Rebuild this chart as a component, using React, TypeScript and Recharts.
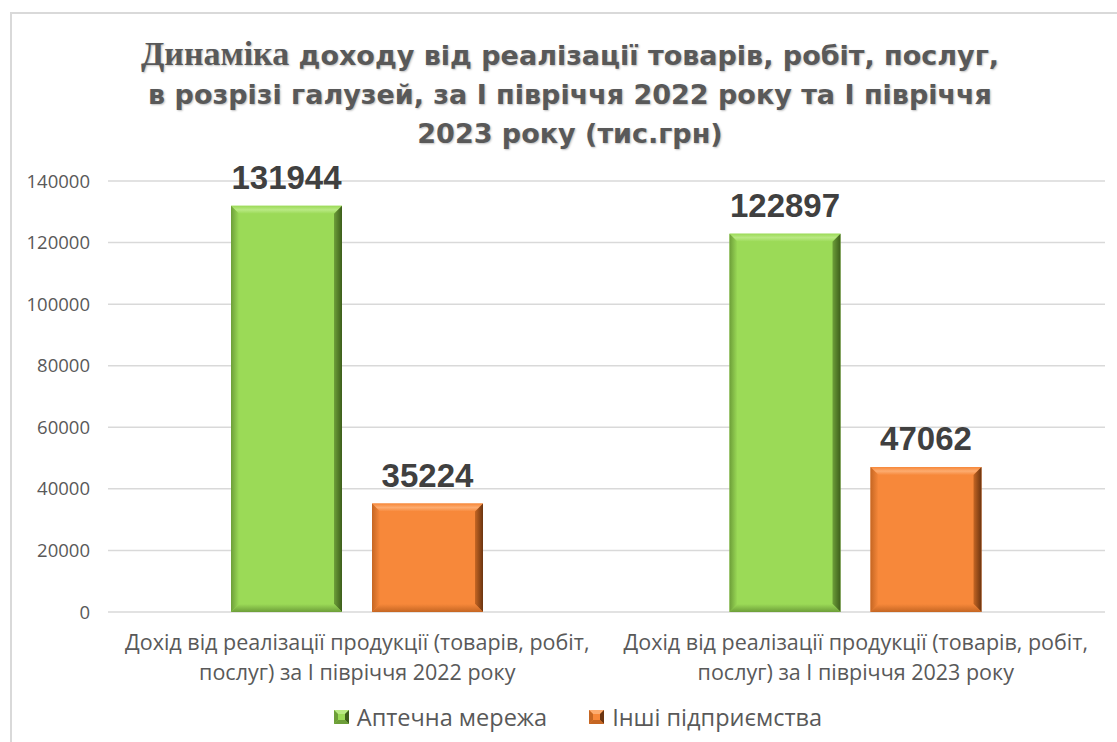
import React from 'react'
import { Bar, BarChart, CartesianGrid, LabelList, XAxis, YAxis } from 'recharts'

const categories = [
  'Дохід від реалізації продукції (товарів, робіт, послуг) за І півріччя 2022 року',
  'Дохід від реалізації продукції (товарів, робіт, послуг) за І півріччя 2023 року',
]
const pharmacy = [131944, 122897]
const others = [35224, 47062]
const yTicks = [0, 20000, 40000, 60000, 80000, 100000, 120000, 140000]
const seriesNames = ['Аптечна мережа', 'Інші підприємства']

const data = categories.map((name, i) => ({ name, pharmacy: pharmacy[i], others: others[i] }))

const GREEN = { fill: '#9bda57', light: '#b9e983', edge: '#6d9e39', dark: '#3d5e1b', id: 'g' }
const ORANGE = { fill: '#f7883a', light: '#fdac70', edge: '#c56623', dark: '#6b3410', id: 'o' }

// bevelled bar, roughly like the office "angle" bevel
function BevelBar(props: any) {
  const { x, y, width: w, height: h, tone } = props
  if (x == null || y == null || !w || !h) return null
  const b = Math.min(8, h / 2)
  return (
    <g>
      <rect x={x} y={y} width={w} height={h} fill={tone.fill} />
      <polygon points={`${x},${y} ${x + w},${y} ${x + w - b},${y + b} ${x + b},${y + b}`} fill={`url(#${tone.id}Top)`} />
      <polygon points={`${x},${y} ${x + b},${y + b} ${x + b},${y + h - b} ${x},${y + h}`} fill={`url(#${tone.id}Left)`} />
      <polygon
        points={`${x + w},${y} ${x + w},${y + h} ${x + w - b},${y + h - b} ${x + w - b},${y + b}`}
        fill={`url(#${tone.id}Right)`}
      />
      <polygon
        points={`${x},${y + h} ${x + b},${y + h - b} ${x + w - b},${y + h - b} ${x + w},${y + h}`}
        fill={`url(#${tone.id}Bottom)`}
      />
    </g>
  )
}

function toneDefs(tone: typeof GREEN) {
  return (
    <>
      <linearGradient id={`${tone.id}Top`} x1="0" y1="0" x2="0" y2="1">
        <stop offset="0%" stopColor={tone.fill} />
        <stop offset="50%" stopColor={tone.light} />
        <stop offset="100%" stopColor={tone.fill} />
      </linearGradient>
      <linearGradient id={`${tone.id}Left`} x1="0" y1="0" x2="1" y2="0">
        <stop offset="0%" stopColor={tone.edge} />
        <stop offset="100%" stopColor={tone.fill} />
      </linearGradient>
      <linearGradient id={`${tone.id}Right`} x1="0" y1="0" x2="1" y2="0">
        <stop offset="0%" stopColor={tone.edge} />
        <stop offset="100%" stopColor={tone.dark} />
      </linearGradient>
      <linearGradient id={`${tone.id}Bottom`} x1="0" y1="0" x2="0" y2="1">
        <stop offset="0%" stopColor={tone.fill} />
        <stop offset="100%" stopColor={tone.edge} />
      </linearGradient>
    </>
  )
}

function CategoryTick(props: any) {
  const { x, y, payload } = props
  const [first, second] = String(payload.value).split(/(?<=робіт,) /)
  return (
    <g>
      <text x={x} y={y + 38} textAnchor="middle" fontSize={21.5} fill="#595959" fontFamily="Open Sans">
        {first}
      </text>
      <text x={x} y={y + 68} textAnchor="middle" fontSize={21.5} fill="#595959" fontFamily="Open Sans">
        {second}
      </text>
    </g>
  )
}

function LegendMark({ tone }: { tone: typeof GREEN }) {
  return (
    <svg width={15} height={14} style={{ marginRight: 8 }}>
      <rect x={0} y={0} width={15} height={14} fill={tone.fill} />
      <polygon points="0,0 15,0 11,4 4,4" fill={tone.light} />
      <polygon points="0,0 4,4 4,10 0,14" fill={tone.edge} />
      <polygon points="15,0 15,14 11,10 11,4" fill={tone.dark} />
      <polygon points="0,14 4,10 11,10 15,14" fill={tone.edge} />
    </svg>
  )
}

export default function App() {
  return (
    <div style={{ position: 'absolute', left: 0, top: 0, width: 1117, height: 742, overflow: 'hidden', background: '#fff' }}>
      <div style={{ position: 'absolute', left: 10, top: 12, width: 1130, height: 760, border: '2px solid #d9d9d9' }} />
      <div
        style={{
          position: 'absolute',
          left: 0,
          top: 34,
          width: 1140,
          textAlign: 'center',
          fontFamily: 'DejaVu Sans',
          fontWeight: 700,
          fontSize: 27,
          lineHeight: '39px',
          color: '#595959',
          textShadow: '1px 1px 2px rgba(0,0,0,0.25)',
        }}
      >
        <span style={{ fontFamily: 'Liberation Serif', fontSize: 34 }}>Динаміка</span> доходу від реалізації товарів, робіт,
        послуг,
        <br />в розрізі галузей, за І півріччя 2022 року та І півріччя
        <br />2023 року (тис.грн)
      </div>
      <div style={{ position: 'absolute', left: 0, top: 0 }}>
        <BarChart width={1117} height={742} data={data} margin={{ top: 181, right: 12, left: 10, bottom: 0 }} barGap={30}>
          <defs>
            {toneDefs(GREEN)}
            {toneDefs(ORANGE)}
          </defs>
          <CartesianGrid vertical={false} stroke="#d9d9d9" strokeWidth={1.5} />
          <XAxis dataKey="name" height={130} axisLine={false} tickLine={false} tickSize={0} tickMargin={0} tick={<CategoryTick />} interval={0} />
          <YAxis
            width={98}
            domain={[0, 140000]}
            ticks={yTicks}
            axisLine={false}
            tickLine={false}
            tickSize={0}
            tickMargin={18}
            tick={{ fill: '#595959', fontSize: 18.5, fontFamily: 'Open Sans' }}
          />
          <Bar dataKey="pharmacy" barSize={111} isAnimationActive={false} shape={<BevelBar tone={GREEN} />}>
            <LabelList dataKey="pharmacy" position="top" offset={17} fill="#404040" fontSize={33} fontWeight={700} fontFamily="Liberation Sans" />
          </Bar>
          <Bar dataKey="others" barSize={111} isAnimationActive={false} shape={<BevelBar tone={ORANGE} />}>
            <LabelList dataKey="others" position="top" offset={17} fill="#404040" fontSize={33} fontWeight={700} fontFamily="Liberation Sans" />
          </Bar>
        </BarChart>
      </div>
      <div
        style={{
          position: 'absolute',
          left: 0,
          top: 701,
          width: 1156,
          display: 'flex',
          justifyContent: 'center',
          alignItems: 'center',
          fontFamily: 'Open Sans',
          fontSize: 23.5,
          color: '#595959',
          gap: 42,
        }}
      >
        <span style={{ display: 'flex', alignItems: 'center' }}>
          <LegendMark tone={GREEN} />
          {seriesNames[0]}
        </span>
        <span style={{ display: 'flex', alignItems: 'center' }}>
          <LegendMark tone={ORANGE} />
          {seriesNames[1]}
        </span>
      </div>
    </div>
  )
}
